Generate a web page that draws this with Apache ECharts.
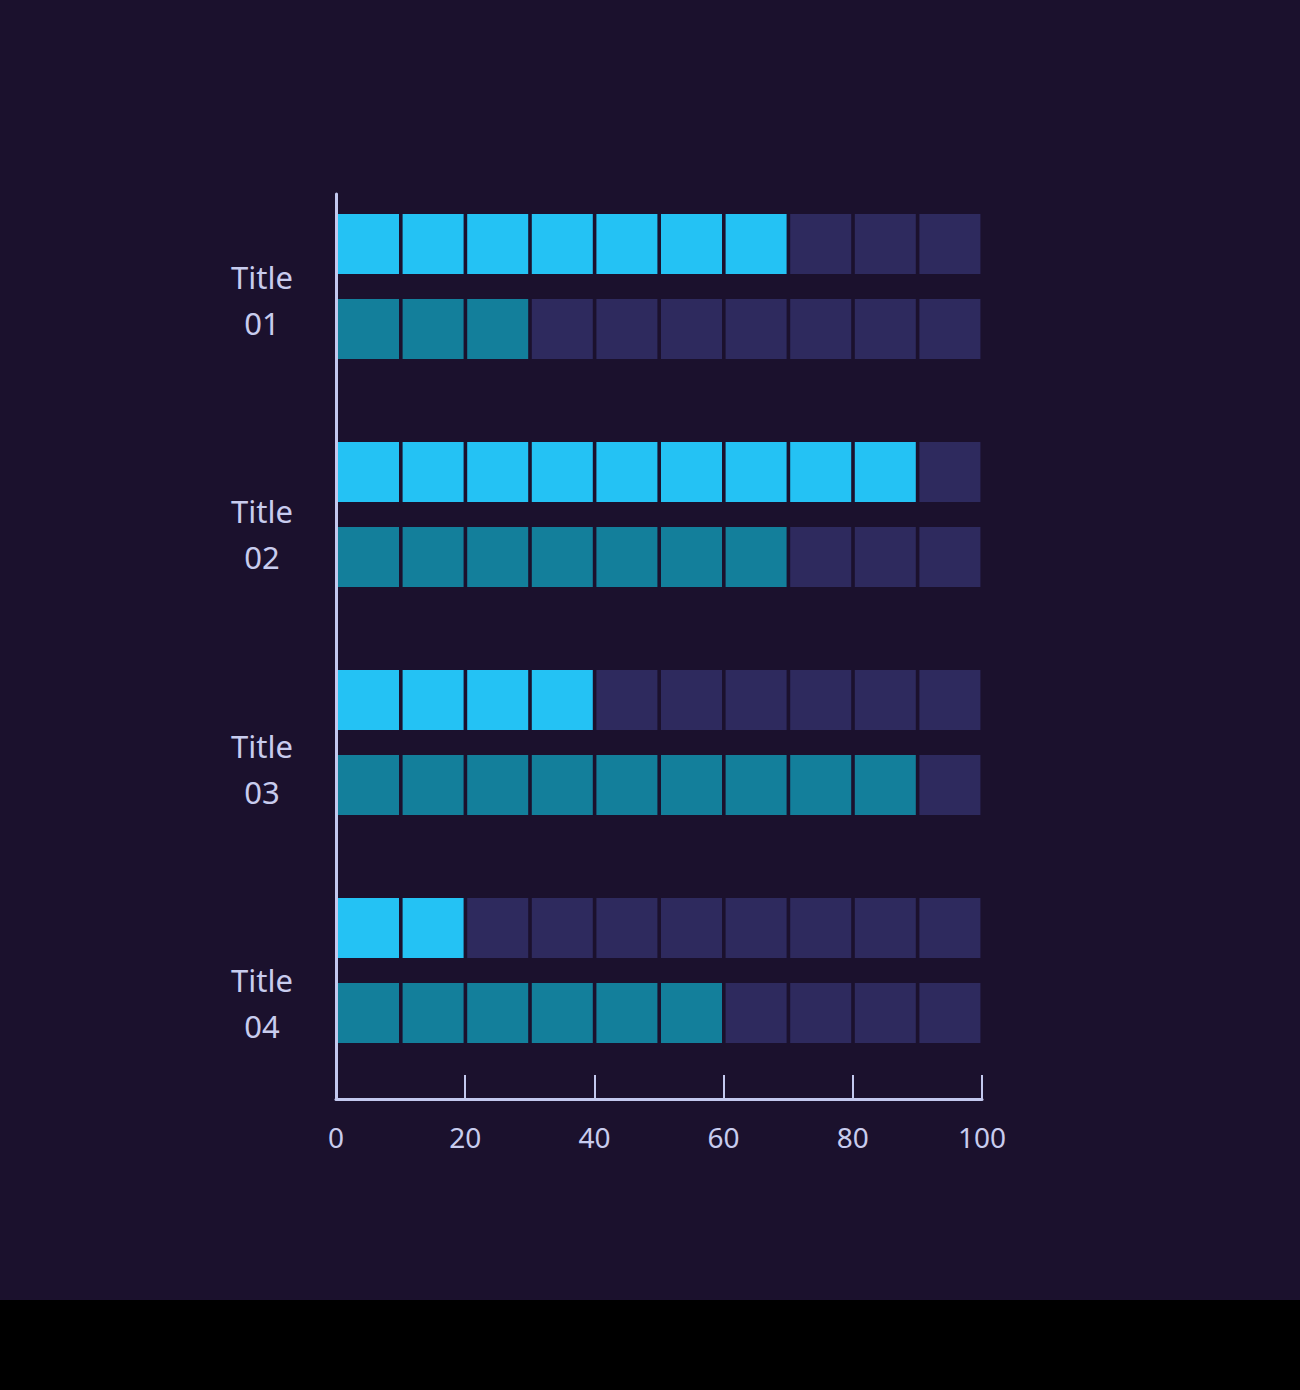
<!DOCTYPE html>
<html>
<head>
<meta charset="utf-8">
<script src="https://cdn.jsdelivr.net/npm/echarts@6/dist/echarts.min.js"></script>
<style>
  html, body { margin: 0; padding: 0; background: #000000; }
  #chart { width: 1300px; height: 1300px; background: #1b112d; }
  #footer { width: 1300px; height: 90px; background: #000000; }
</style>
</head>
<body>
<div id="chart"></div>
<div id="footer"></div>
<script>
// ---- data ----
const categories = ['Title\n01', 'Title\n02', 'Title\n03', 'Title\n04'];
const primaryValues = [70, 90, 40, 20];   // light blue bars
const secondaryValues = [30, 70, 90, 60]; // teal bars
const xTicks = [0, 20, 40, 60, 80, 100];

const BG = '#1b112d';
const EMPTY = '#2e2a5e';
const LIGHT = '#24c2f4';
const TEAL = '#137f9b';
const AXIS = '#c3c8ee';
const TEXT = '#c8ccee';
const FONT = '"Noto Sans", "Open Sans", sans-serif';

function makeRender(color, offset) {
  return function (params, api) {
    const value = api.value(0);
    const cat = api.value(1);
    const cy = api.coord([0, cat])[1] + offset;
    const h = 60;
    const children = [];
    for (let k = 0; k < 10; k++) {
      const xa = api.coord([k * 10, cat])[0];
      const xb = api.coord([k * 10 + 10, cat])[0];
      children.push({
        type: 'rect',
        shape: { x: xa + 2, y: cy - h / 2, width: (xb - xa) - 3.6, height: h },
        style: { fill: (k * 10 < value) ? color : EMPTY }
      });
    }
    return { type: 'group', children: children };
  };
}

const chart = echarts.init(document.getElementById('chart'), null, { renderer: 'svg' });
chart.setOption({
  backgroundColor: BG,
  animation: false,
  grid: [
    { left: 336, width: 646, top: 173, height: 912 },   // bars
    { left: 336, width: 646, top: 194, height: 905 },   // axis frame
    { left: 336, width: 646, top: 183, height: 937 }    // category labels
  ],
  xAxis: [
    { gridIndex: 0, type: 'value', min: 0, max: 100, show: false },
    {
      gridIndex: 1, type: 'value', min: 0, max: 100, interval: 20,
      axisLine: { show: true, lineStyle: { color: AXIS, width: 3 } },
      axisTick: { show: true, inside: true, length: 24, lineStyle: { color: AXIS, width: 2 } },
      splitLine: { show: false },
      axisLabel: {
        color: TEXT, fontSize: 28, fontFamily: FONT, margin: 24,
        formatter: function (v) { return xTicks.indexOf(v) >= 0 ? String(v) : ''; }
      }
    },
    { gridIndex: 2, type: 'value', min: 0, max: 100, show: false }
  ],
  yAxis: [
    {
      gridIndex: 0, type: 'category', data: categories, inverse: true,
      axisLine: { show: false }, axisTick: { show: false }, splitLine: { show: false },
      axisLabel: { show: false }
    },
    {
      gridIndex: 1, type: 'value', min: 0, max: 1,
      axisLine: { show: true, lineStyle: { color: AXIS, width: 3 } },
      axisTick: { show: false }, axisLabel: { show: false }, splitLine: { show: false }
    },
    {
      gridIndex: 2, type: 'category', data: categories, inverse: true,
      axisLine: { show: false }, axisTick: { show: false }, splitLine: { show: false },
      axisLabel: {
        color: TEXT, fontSize: 31, fontFamily: FONT, lineHeight: 46,
        align: 'center', margin: 74
      }
    }
  ],
  series: [
    {
      type: 'custom', xAxisIndex: 0, yAxisIndex: 0,
      renderItem: makeRender(LIGHT, -43),
      encode: { x: 0, y: 1 },
      data: primaryValues.map((v, i) => [v, i])
    },
    {
      type: 'custom', xAxisIndex: 0, yAxisIndex: 0,
      renderItem: makeRender(TEAL, 42),
      encode: { x: 0, y: 1 },
      data: secondaryValues.map((v, i) => [v, i])
    }
  ]
});
</script>
</body>
</html>
